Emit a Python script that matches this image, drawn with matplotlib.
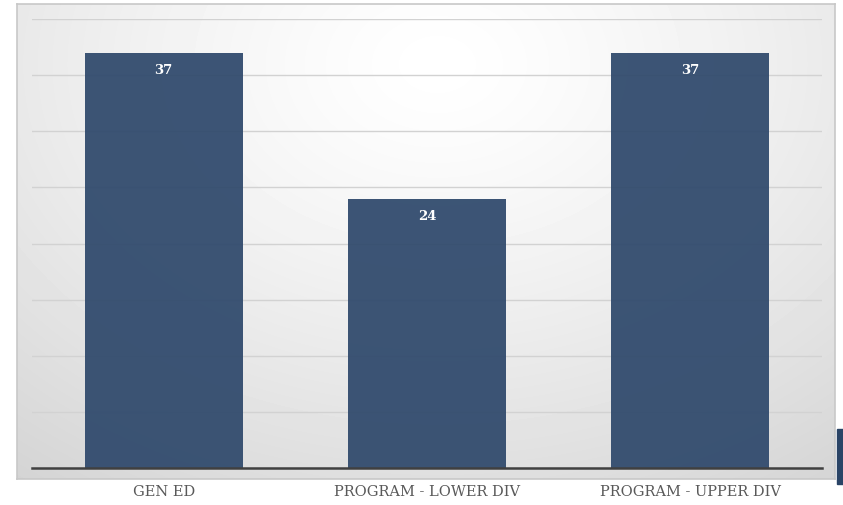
import numpy as np
import matplotlib.pyplot as plt
from matplotlib.patches import Rectangle

categories = ['GEN ED', 'PROGRAM - LOWER DIV', 'PROGRAM - UPPER DIV']
counts = [37, 24, 37]

bar_color = '#2e486b'
plt.rcParams['font.family'] = ['DejaVu Serif']

fig = plt.figure(figsize=(8.43, 5.06), dpi=100)
W, H = 843, 506

# chart frame with a soft radial fill
frame = fig.add_axes([17 / W, 1 - 480 / H, (835 - 17) / W, (480 - 5) / H])
yy, xx = np.mgrid[0:475, 0:818]
r = np.sqrt(((xx - 420) / 700.0) ** 2 + ((yy - 60) / 520.0) ** 2)
shade = 1.0 - 0.17 * np.clip(r, 0, 1) ** 1.3
frame.imshow(shade, cmap='gray', vmin=0, vmax=1, aspect='auto', interpolation='bilinear')
frame.set_xticks([])
frame.set_yticks([])
for s in frame.spines.values():
    s.set_color('#c8c8c8')
    s.set_linewidth(1.2)

ax = fig.add_axes([32 / W, 1 - 469 / H, (822 - 32) / W, (469 - 20) / H])
ax.patch.set_alpha(0)
x = np.arange(len(categories))
bars = ax.bar(x, counts, width=0.6, color=bar_color, alpha=0.93, zorder=3)
ax.set_xlim(-0.5, 2.5)
ax.set_ylim(0, 40)
ax.set_yticks(np.arange(0, 41, 5))
ax.yaxis.grid(True, color='#d2d2d2', linewidth=1.0, zorder=0)
ax.tick_params(axis='y', left=False, labelleft=False)
ax.tick_params(axis='x', bottom=False, pad=8)
ax.set_xticks(x)
ax.set_xticklabels(categories, fontsize=10.5, color='#595959')
for name in ['top', 'left', 'right']:
    ax.spines[name].set_visible(False)
ax.spines['bottom'].set_color('#404040')
ax.spines['bottom'].set_linewidth(1.8)
ax.spines['bottom'].set_zorder(4)

for b, v in zip(bars, counts):
    ax.text(b.get_x() + b.get_width() / 2, v - 1.5, str(v), ha='center', va='center',
            color='white', fontsize=9.5, fontweight='bold', zorder=5)

# small accent tab on the right edge
fig.patches.append(Rectangle((837 / W, 1 - 485 / H), 8 / W, 55 / H,
                             transform=fig.transFigure, color='#2a4466'))

fig.savefig('out.png', dpi=100)
